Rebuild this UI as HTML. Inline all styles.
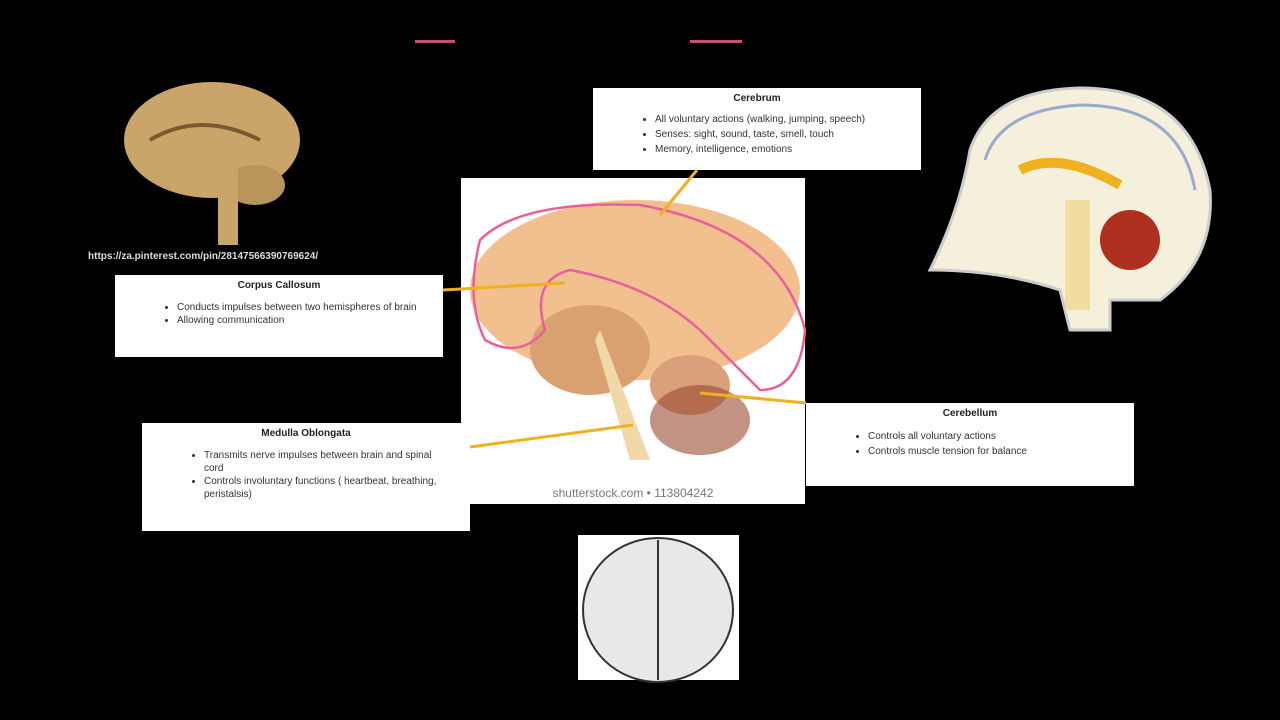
<!DOCTYPE html>
<html><head><meta charset="utf-8"><style>
body{margin:0;width:1280px;height:720px;background:#000;position:relative;overflow:hidden;font-family:"Liberation Sans",Arial,sans-serif}
.box{position:absolute;background:#fff;color:#333;font-size:10px}
.box h4{margin:0;text-align:center;font-size:10px;font-weight:bold;padding-top:5px;color:#222}
.box ul{margin:10px 0 0 0;padding-left:62px;line-height:14px}
svg{position:absolute;left:0;top:0}
</style></head><body>
<svg width="1280" height="720">
 <rect x="415" y="40" width="40" height="3" fill="#c05080"/>
 <rect x="690" y="40" width="52" height="3" fill="#c05080"/>
 <ellipse cx="212" cy="140" rx="88" ry="58" fill="#c9a56a"/>
 <ellipse cx="255" cy="185" rx="30" ry="20" fill="#b8955a"/>
 <rect x="218" y="170" width="20" height="75" fill="#c9a56a"/>
 <path d="M150 140 Q200 110 260 140" stroke="#7a5a30" stroke-width="4" fill="none"/>
 <rect x="461" y="178" width="344" height="326" fill="#fff"/>
 <ellipse cx="635" cy="290" rx="165" ry="90" fill="#f2c08f"/>
 <ellipse cx="590" cy="350" rx="60" ry="45" fill="#d9a070"/>
 <path d="M600 330 L650 460 L630 460 L595 340 Z" fill="#f0d8a8"/>
 <ellipse cx="690" cy="385" rx="40" ry="30" fill="#d9a07a"/>
 <ellipse cx="700" cy="420" rx="50" ry="35" fill="#9a4a30" opacity=".6"/>
 <path d="M480 240 Q520 200 640 205 Q780 230 805 330 Q800 390 760 390 L700 330 Q650 285 570 270 Q530 280 545 330 Q520 360 485 340 Q465 300 480 240 Z" fill="none" stroke="#e8609a" stroke-width="2.5"/>
 <text x="633" y="497" font-size="12" fill="#777" text-anchor="middle" font-family="Liberation Sans">shutterstock.com • 113804242</text>
 <g stroke="#f0b020" stroke-width="3">
 <line x1="697" y1="170" x2="660" y2="215"/>
 <line x1="443" y1="290" x2="565" y2="283"/>
 <line x1="470" y1="447" x2="633" y2="425"/>
 <line x1="806" y1="403" x2="700" y2="393"/>
 </g>
 <path d="M930 270 Q960 210 970 150 Q990 90 1080 88 Q1190 88 1210 190 Q1215 260 1160 300 L1110 300 L1110 330 L1070 330 L1060 290 Q1000 270 930 270 Z" fill="#f5f0dc" stroke="#ccc" stroke-width="3"/>
 <path d="M985 160 Q1000 110 1080 105 Q1180 105 1195 190" stroke="#9ac" stroke-width="3" fill="none"/>
 <path d="M1020 170 Q1060 150 1120 185" stroke="#f0b020" stroke-width="10" fill="none"/>
 <ellipse cx="1130" cy="240" rx="30" ry="30" fill="#b03020"/>
 <rect x="1065" y="200" width="25" height="110" fill="#f2dca0"/>
 <rect x="578" y="535" width="161" height="145" fill="#fff"/>
 <ellipse cx="658" cy="610" rx="75" ry="72" fill="#e8e8e8" stroke="#333" stroke-width="2"/>
 <line x1="658" y1="540" x2="658" y2="680" stroke="#333" stroke-width="2"/>
</svg>
<div style="position:absolute;left:88px;top:251px;color:#ddd;font-size:10px;font-weight:bold">https://za.pinterest.com/pin/28147566390769624/</div>
<div class="box" style="left:593px;top:88px;width:328px;height:82px"><h4>Cerebrum</h4><ul style="margin-top:8px;line-height:15px"><li>All voluntary actions (walking, jumping, speech)</li><li>Senses: sight, sound, taste, smell, touch</li><li>Memory, intelligence, emotions</li></ul></div>
<div class="box" style="left:115px;top:275px;width:328px;height:82px"><h4>Corpus Callosum</h4><ul style="line-height:13px;padding-right:22px"><li>Conducts impulses between two hemispheres of brain</li><li>Allowing communication</li></ul></div>
<div class="box" style="left:142px;top:423px;width:328px;height:108px"><h4>Medulla Oblongata</h4><ul style="line-height:13px;padding-right:30px"><li>Transmits nerve impulses between brain and spinal cord</li><li>Controls involuntary functions ( heartbeat, breathing, peristalsis)</li></ul></div>
<div class="box" style="left:806px;top:403px;width:328px;height:83px"><h4>Cerebellum</h4><ul style="line-height:15px"><li>Controls all voluntary actions</li><li>Controls muscle tension for balance</li></ul></div>
</body></html>
